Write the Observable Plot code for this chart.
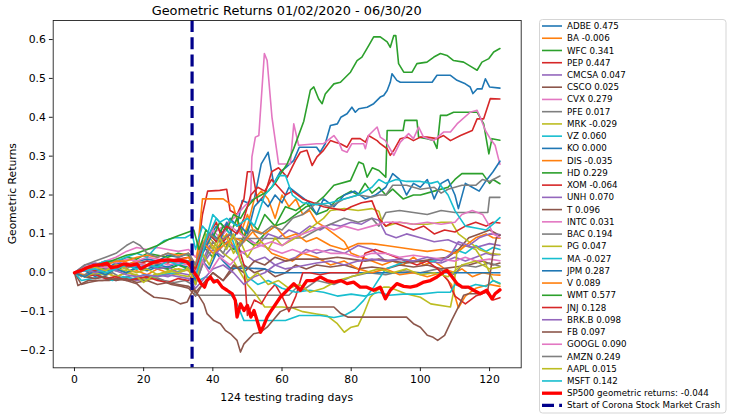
<!DOCTYPE html>
<html>
<head>
<meta charset="utf-8">
<script src="https://cdn.jsdelivr.net/npm/d3@7"></script>
<script src="https://cdn.jsdelivr.net/npm/@observablehq/plot@0.6"></script>
<style>
  html, body { margin: 0; padding: 0; background: #fff; }
  #chart { width: 730px; height: 417px; }
</style>
</head>
<body>
<div id="chart"></div>
<script>
// ---------------- DATA ----------------
const titleText = "Geometric Returns 01/02/2020 - 06/30/20";
const xLabel = "124 testing trading days";
const yLabel = "Geometric Returns";
const crashDay = 34;
const crashLabel = "Start of Corona Stock Market Crash";
const spLabel = "SP500 geometric returns: -0.044";

const tickX = [0, 20, 40, 60, 80, 100, 120];
const tickY = [-0.2, -0.1, 0.0, 0.1, 0.2, 0.3, 0.4, 0.5, 0.6];

const names = ["ADBE","BA","WFC","PEP","CMCSA","CSCO","CVX","PFE","MRK","VZ","KO","DIS","HD","XOM","UNH","T","INTC","BAC","PG","MA","JPM","V","WMT","JNJ","BRK.B","FB","GOOGL","AMZN","AAPL","MSFT"];
const finals = [0.475,-0.006,0.341,0.447,0.047,0.025,0.279,0.017,-0.029,0.060,0.000,-0.035,0.229,-0.064,0.070,0.096,0.031,0.194,0.047,-0.027,0.287,0.089,0.577,0.128,0.098,0.097,0.090,0.249,0.015,0.142];

// [day, geometric return]
const ADBE = [[0,0],[3,0.01],[6,0.02],[9,0.01],[12,0.025],[15,0.02],[18,0.03],[21,0.035],[24,0.03],[27,0.045],[30,0.04],[33,0.05],[35,0.02],[37,0.06],[39,0.09],[41,0.12],[43,0.1],[45,0.14],[47,0.12],[48.5,0.186],[50,0.18],[52,0.19],[54,0.28],[56,0.31],[57.6,0.229],[59.5,0.26],[61,0.27],[63.4,0.289],[65,0.323],[70,0.323],[71,0.31],[72.5,0.332],[74,0.379],[76,0.383],[77,0.40],[78.8,0.409],[80.2,0.426],[81.2,0.413],[82.2,0.422],[84.6,0.426],[86.5,0.435],[88.4,0.452],[89.4,0.456],[90.4,0.469],[91.3,0.49],[91.8,0.512],[93.2,0.495],[94.2,0.49],[103.4,0.49],[104.8,0.508],[108.7,0.508],[110.6,0.495],[113,0.486],[114.4,0.478],[115.2,0.461],[116.4,0.473],[117.8,0.473],[118.8,0.499],[120,0.478],[123,0.475]];
const BA = [[0,0],[3,-0.005],[6,0.005],[9,0.0],[12,-0.01],[15,0.0],[18,0.005],[21,-0.005],[24,0.01],[27,0.0],[30,0.01],[33,0.005],[35,-0.02],[37,0.05],[39,0.08],[41,0.06],[44,0.1],[47,0.05],[50,0.12],[52,0.19],[54,0.21],[56,0.19],[58,0.14],[60,0.2],[62,0.17],[64,0.19],[66,0.15],[68,0.16],[70,0.13],[72,0.12],[75,0.1],[78,0.08],[80,0.05],[83,0.04],[86,0.03],[89,0.02],[92,0.03],[95,0.02],[98,0.04],[101,0.02],[104,0.03],[107,0.01],[110,0.0],[112,0.01],[115,-0.01],[118,0.0],[121,-0.005],[123,-0.006]];
const WFC = [[0,0],[3,0.015],[6,0.02],[9,0.03],[12,0.025],[15,0.04],[18,0.035],[21,0.05],[24,0.045],[27,0.04],[30,0.05],[33,0.045],[35,0.0],[37,0.07],[40,0.04],[43,0.08],[46,0.06],[49,0.09],[52,0.07],[55,0.1],[58,0.12],[61,0.13],[64,0.15],[67,0.17],[70,0.18],[72,0.195],[75,0.225],[79.8,0.237],[82.2,0.285],[83.5,0.28],[84.6,0.246],[86.1,0.27],[88,0.263],[90,0.246],[90.4,0.366],[95,0.366],[95.5,0.392],[99,0.392],[99.5,0.349],[101.9,0.345],[103.8,0.34],[104.8,0.32],[105.8,0.405],[107.7,0.405],[109.6,0.413],[116.4,0.413],[118.3,0.383],[119.8,0.306],[120.7,0.345],[123,0.341]];
const PEP = [[0,0],[3,0.005],[6,0.015],[9,0.01],[12,0.02],[15,0.015],[18,0.025],[21,0.02],[24,0.03],[27,0.025],[30,0.035],[33,0.04],[35,0.01],[37,0.15],[38.5,0.21],[42,0.212],[44,0.215],[45,0.16],[47,0.15],[49,0.19],[50,0.26],[51.5,0.26],[53,0.18],[55,0.2],[57,0.26],[59,0.27],[61.5,0.246],[63.9,0.289],[65.3,0.31],[67.2,0.315],[68.7,0.276],[70.1,0.298],[72,0.315],[74,0.34],[75.4,0.336],[76.9,0.332],[78.8,0.323],[80.2,0.345],[82.6,0.345],[84.1,0.336],[85,0.353],[87.5,0.34],[88.4,0.332],[90.4,0.319],[91.3,0.302],[92.3,0.315],[94.2,0.345],[96.2,0.349],[98,0.34],[100,0.349],[101.9,0.349],[104.8,0.345],[106.7,0.353],[108.7,0.34],[111.6,0.353],[115,0.366],[116.4,0.396],[118.3,0.396],[120.2,0.448],[123,0.447]];
const CMCSA = [[0,0],[3,-0.01],[6,-0.005],[9,-0.015],[12,-0.02],[15,-0.01],[18,-0.02],[21,-0.015],[24,-0.005],[27,-0.01],[30,0.0],[33,-0.005],[35,-0.03],[37,0.02],[40,0.06],[43,0.04],[46,0.07],[49,0.05],[52,0.03],[55,0.04],[58,0.02],[61,0.03],[64,0.04],[67,0.06],[70,0.05],[74,0.06],[78,0.05],[82,0.07],[86,0.06],[90,0.03],[94,0.035],[98,0.03],[102,0.03],[106,0.025],[110,0.04],[113,0.03],[116,0.04],[119,0.05],[121,0.045],[123,0.047]];
const CSCO = [[0,0],[2,-0.03],[4,-0.025],[7,-0.02],[10,-0.02],[13,-0.015],[16,-0.02],[19,-0.015],[22,-0.01],[25,-0.02],[28,-0.03],[31,-0.035],[33,-0.04],[35,-0.06],[37,-0.03],[40,0.0],[43,-0.02],[46,0.01],[49,0.02],[52,0.0],[55,0.01],[58,-0.01],[61,0.0],[64,0.02],[67,0.01],[70,0.02],[74,0.015],[78,0.02],[82,0.01],[86,0.015],[90,0.01],[94,0.02],[98,0.015],[102,0.02],[106,0.01],[110,0.015],[114,0.02],[118,0.03],[121,0.02],[123,0.025]];
const CVX = [[0,0],[3,0.01],[6,0.02],[9,0.03],[12,0.04],[15,0.055],[18,0.065],[21,0.06],[24,0.065],[27,0.06],[30,0.055],[33,0.06],[35,0.04],[37,0.08],[40,0.1],[43,0.12],[46,0.14],[49,0.17],[50.9,0.186],[51.3,0.298],[52.3,0.349],[53.3,0.353],[54.9,0.564],[55.7,0.546],[57.1,0.40],[58.6,0.306],[59,0.28],[62.4,0.28],[63.4,0.383],[64.8,0.328],[70,0.332],[72,0.332],[75,0.353],[76.4,0.336],[77.4,0.315],[78.8,0.31],[80.2,0.332],[83.6,0.332],[84.1,0.319],[85,0.353],[87.5,0.375],[88.4,0.349],[89.9,0.34],[92.3,0.302],[94.2,0.336],[96.6,0.358],[98,0.345],[99.5,0.375],[100.9,0.349],[103.8,0.34],[106.7,0.362],[108.7,0.362],[110.6,0.383],[114.4,0.413],[116.4,0.418],[117.3,0.40],[118.8,0.366],[120.2,0.345],[121.6,0.328],[122.6,0.293],[123,0.279]];
const PFE = [[0,0],[2,-0.01],[5,0.005],[8,-0.01],[11,0.0],[14,-0.015],[17,-0.005],[20,-0.02],[23,-0.01],[26,-0.02],[29,-0.025],[32,-0.02],[34,-0.03],[35,-0.058],[45,-0.058],[55,-0.058],[62,-0.058],[64,-0.04],[66,-0.045],[70,-0.02],[75,-0.03],[80,-0.01],[85,0.0],[90,-0.005],[95,0.005],[100,0.0],[105,0.01],[110,-0.005],[112,0.02],[116,0.015],[120,0.025],[123,0.017]];
const MRK = [[0,0],[3,0.005],[6,-0.005],[9,0.0],[12,-0.01],[15,0.0],[18,-0.005],[21,-0.02],[24,-0.01],[27,0.0],[30,-0.005],[33,-0.01],[35,0.02],[37,0.05],[39,0.09],[41,0.07],[43,0.05],[46,0.03],[48,0.0],[50,-0.03],[52,-0.05],[55,-0.088],[60,-0.088],[63,-0.09],[66,-0.1],[70,-0.106],[73,-0.11],[76,-0.131],[78,-0.153],[80,-0.14],[82,-0.136],[83.6,-0.106],[85.5,-0.063],[87.5,-0.045],[89.4,-0.037],[91,-0.037],[95.8,-0.054],[100,-0.063],[103,-0.08],[108.7,-0.088],[109.7,-0.045],[110.5,0.05],[113,0.07],[116,0.06],[119,0.02],[121,-0.02],[123,-0.029]];
const VZ = [[0,0],[2,-0.02],[5,-0.015],[8,-0.01],[11,-0.02],[14,-0.01],[17,-0.015],[20,-0.005],[23,-0.01],[26,-0.005],[29,0.0],[32,0.01],[34,0.02],[36,-0.02],[38,-0.01],[41,-0.02],[44,-0.045],[46.5,-0.07],[49,-0.123],[55,-0.123],[61,-0.123],[65,-0.11],[71,-0.11],[75,-0.115],[78,-0.11],[81,-0.095],[83.6,-0.071],[86.5,-0.037],[88.4,-0.011],[90,0.01],[93,0.02],[96,0.03],[100,0.03],[104,0.03],[108,0.04],[110,0.06],[113,0.05],[116,0.07],[119,0.055],[121,0.065],[123,0.06]];
const KO = [[0,0],[3,0.005],[6,-0.01],[9,0.005],[12,0.01],[15,0.0],[18,0.012],[21,0.005],[24,0.015],[27,0.01],[30,0.02],[33,0.015],[35,-0.01],[37,0.03],[39,0.01],[41,0.05],[43,0.03],[45,0.012],[50,0.012],[55,0.01],[58,0.0],[123,0.0]];
const DIS = [[0,0],[3,0.01],[6,0.005],[9,0.015],[12,0.01],[15,0.02],[18,0.03],[21,0.02],[24,0.025],[27,0.035],[30,0.03],[33,0.04],[35,0.0],[37,0.19],[40,0.19],[43,0.19],[46,0.17],[48,0.1],[50,0.15],[52,0.1],[54,0.08],[57,0.05],[60,0.04],[63,0.03],[66,0.05],[70,0.04],[74,0.02],[78,0.03],[82,0.01],[86,0.0],[90,0.01],[94,-0.005],[98,0.0],[102,-0.01],[106,0.0],[109,-0.03],[111,-0.09],[113,-0.06],[116,-0.04],[120,-0.03],[123,-0.035]];
const HD = [[0,0],[3,0.01],[6,0.0],[9,0.015],[12,0.005],[15,0.02],[18,0.01],[21,0.02],[24,0.015],[27,0.01],[30,0.02],[33,0.01],[35,-0.02],[37,0.06],[39,0.1],[41,0.08],[43,0.12],[45,0.1],[47,0.14],[49,0.09],[51,0.13],[53,0.11],[55,0.15],[58,0.12],[61,0.17],[64,0.16],[67,0.18],[70,0.15],[73,0.16],[76,0.19],[78,0.2],[80,0.21],[82,0.2],[84,0.23],[86,0.205],[88,0.22],[90,0.2],[92,0.215],[95,0.19],[98,0.2],[100,0.2],[104,0.21],[108,0.22],[110,0.24],[112,0.255],[118,0.255],[120,0.23],[121,0.24],[123,0.229]];
const XOM = [[0,0],[3,-0.01],[6,-0.005],[9,-0.015],[12,-0.01],[15,-0.02],[18,-0.015],[21,-0.01],[24,-0.02],[27,-0.025],[30,-0.015],[33,-0.02],[35,0.0],[37,0.05],[39,0.1],[41,0.13],[43,0.08],[45,0.1],[47,0.08],[49,0.02],[50,-0.11],[52,-0.07],[54,-0.08],[56,-0.05],[58,-0.03],[60,-0.06],[62,-0.1],[64,-0.06],[66,0.0],[68,0.0],[71,-0.005],[74,0.0],[78,0.0],[82,0.0],[84,0.05],[87,0.06],[90,0.05],[93,0.04],[96,0.03],[99,0.02],[102,0.03],[105,0.01],[108,-0.02],[110,-0.06],[113,-0.08],[116,-0.06],[119,-0.05],[121,-0.07],[123,-0.064]];
const UNH = [[0,0],[3,0.02],[6,0.025],[9,0.02],[12,0.03],[15,0.02],[18,0.015],[21,0.02],[24,0.01],[27,0.015],[30,0.0],[33,0.01],[35,-0.02],[37,0.03],[39,0.07],[41,0.05],[44,0.08],[47,0.06],[50,0.09],[53,0.07],[56,0.1],[59,0.09],[62,0.11],[65,0.1],[68,0.12],[71,0.11],[74,0.125],[77,0.12],[80,0.13],[83,0.125],[86,0.14],[88,0.135],[90,0.1],[93,0.09],[96,0.1],[100,0.09],[104,0.08],[108,0.085],[112,0.07],[116,0.065],[120,0.075],[123,0.07]];
const T = [[0,0],[3,-0.01],[6,-0.015],[9,-0.01],[12,-0.02],[15,-0.015],[18,-0.025],[21,-0.02],[24,-0.03],[27,-0.025],[30,-0.03],[33,-0.035],[35,-0.05],[37,-0.03],[40,0.0],[43,-0.02],[46,0.02],[49,0.0],[52,0.03],[55,0.02],[58,0.04],[61,0.03],[64,0.035],[68,0.035],[72,0.035],[76,0.04],[80,0.035],[84,0.03],[88,0.035],[92,0.03],[96,0.025],[100,0.03],[104,0.035],[108,0.04],[111,0.06],[114,0.09],[117,0.1],[120,0.11],[123,0.096]];
const INTC = [[0,0],[3,0.015],[6,0.02],[9,0.03],[12,0.025],[15,0.035],[18,0.03],[21,0.04],[24,0.035],[27,0.03],[30,0.035],[33,0.03],[35,0.0],[37,0.06],[40,0.11],[42,0.09],[45,0.12],[48,0.1],[51,0.08],[54,0.07],[57,0.06],[60,0.05],[63,0.06],[66,0.05],[70,0.06],[74,0.05],[78,0.05],[82,0.04],[86,0.05],[90,0.05],[94,0.04],[98,0.045],[102,0.04],[106,0.035],[110,0.03],[113,0.04],[116,0.03],[120,0.035],[123,0.031]];
const BAC = [[0,0],[3,0.01],[6,-0.005],[9,0.01],[12,0.02],[15,0.01],[18,0.025],[21,0.03],[24,0.02],[27,0.03],[30,0.025],[33,0.03],[35,-0.03],[37,0.02],[40,0.08],[43,0.05],[45,0.088],[62,0.088],[66,0.09],[70,0.11],[74,0.125],[78,0.14],[82,0.13],[86,0.14],[88,0.12],[90,0.155],[94,0.16],[98,0.155],[102,0.15],[106,0.16],[110,0.155],[119.5,0.155],[120,0.194],[123,0.194]];
const PG = [[0,0],[3,-0.01],[6,0.0],[9,-0.005],[12,0.01],[15,0.005],[18,-0.01],[20,-0.025],[23,-0.005],[26,0.0],[29,0.01],[32,0.005],[34,0.03],[36,0.01],[38,0.1],[40,0.06],[42,0.1],[44,0.09],[46,0.05],[48,0.08],[50,0.04],[52,0.07],[54,0.08],[56,0.06],[58,0.09],[60,0.07],[63,0.085],[66,0.1],[69,0.12],[72,0.14],[74,0.16],[78,0.165],[82,0.16],[86,0.165],[88,0.158],[89,0.13],[90,0.12],[94,0.13],[98,0.125],[102,0.125],[106,0.13],[109,0.13],[111,0.1],[114,0.08],[117,0.06],[120,0.05],[123,0.047]];
const MA = [[0,0],[3,0.01],[6,0.02],[9,0.03],[12,0.03],[15,0.04],[18,0.05],[21,0.04],[24,0.07],[26,0.083],[29,0.09],[32,0.09],[34,0.1],[35,0.06],[37,0.12],[39,0.1],[41,0.14],[43,0.12],[45,0.1],[48,0.03],[50,-0.01],[53,-0.03],[56,-0.02],[60,-0.04],[64,-0.05],[68,-0.045],[72,-0.05],[76,-0.06],[80,-0.055],[84,-0.06],[88,-0.05],[91,-0.058],[95,-0.055],[100,-0.055],[105,-0.05],[108.7,-0.05],[110,-0.03],[113,-0.04],[116,-0.03],[119,-0.035],[121,-0.02],[123,-0.027]];
const JPM = [[0,0],[3,-0.01],[6,0.005],[9,-0.005],[12,0.01],[15,0.0],[18,0.015],[21,0.01],[24,0.02],[27,0.015],[30,0.025],[33,0.03],[35,-0.02],[37,0.05],[40,0.1],[42,0.08],[44,0.13],[46,0.09],[48,0.12],[50,0.1],[52,0.17],[54,0.19],[56,0.17],[58,0.2],[60,0.18],[62,0.22],[65,0.2],[68,0.18],[70,0.15],[72,0.19],[75,0.17],[78,0.2],[81,0.21],[84,0.19],[87,0.2],[90,0.22],[92,0.255],[94,0.24],[96,0.2],[98,0.23],[100,0.22],[102,0.24],[104,0.19],[106,0.23],[108,0.24],[110,0.2],[111,0.165],[113,0.23],[115,0.22],[117,0.21],[119,0.237],[121,0.26],[123,0.287]];
const V = [[0,0],[3,0.01],[6,0.02],[9,0.02],[12,0.03],[15,0.03],[18,0.04],[21,0.045],[24,0.04],[27,0.05],[30,0.045],[33,0.05],[35,0.02],[37,0.08],[40,0.05],[43,0.07],[46,0.09],[49,0.08],[52,0.11],[55,0.1],[58,0.12],[61,0.09],[64,0.1],[67,0.08],[70,0.09],[74,0.07],[78,0.06],[82,0.075],[86,0.075],[90,0.07],[94,0.065],[98,0.06],[102,0.055],[106,0.06],[110,0.05],[113,0.07],[116,0.09],[119,0.1],[121,0.09],[123,0.089]];
const WMT = [[0,0],[3,0.01],[6,0.02],[9,0.025],[12,0.035],[15,0.045],[18,0.05],[21,0.06],[24,0.07],[27,0.085],[30,0.095],[33,0.105],[34.5,0.11],[36,0.06],[38,0.11],[40,0.09],[42,0.13],[44,0.11],[46,0.15],[48,0.14],[50,0.17],[52,0.19],[54,0.2],[56,0.21],[58,0.23],[60,0.26],[61.5,0.28],[63.4,0.32],[66.3,0.39],[68.2,0.47],[69.2,0.478],[70.6,0.447],[71.6,0.435],[72.5,0.46],[75,0.486],[76.9,0.49],[79.8,0.516],[81.7,0.546],[83.1,0.555],[85.1,0.585],[86.5,0.607],[88.4,0.607],[90.4,0.594],[91.3,0.58],[92.3,0.61],[92.9,0.61],[93.7,0.538],[95.2,0.516],[97.6,0.516],[99,0.538],[101.9,0.542],[103.9,0.555],[105.8,0.564],[107.7,0.559],[109.6,0.546],[112.5,0.542],[114.9,0.529],[116.4,0.521],[117.8,0.542],[119.8,0.551],[121.2,0.568],[123,0.577]];
const JNJ = [[0,0],[3,0.01],[6,0.005],[9,0.02],[12,0.015],[15,0.025],[18,0.02],[21,0.03],[24,0.025],[27,0.03],[30,0.035],[33,0.03],[35,0.01],[37,0.06],[39,0.1],[41,0.08],[44,0.12],[47,0.1],[49,0.14],[51,0.2],[53,0.22],[55,0.21],[57,0.24],[59,0.22],[61,0.2],[63,0.21],[66,0.19],[69,0.18],[72,0.17],[75,0.165],[78,0.16],[80,0.17],[83,0.18],[86,0.185],[88,0.14],[90,0.12],[92,0.13],[95,0.12],[98,0.11],[101,0.12],[104,0.1],[107,0.11],[110,0.105],[113,0.12],[116,0.13],[119,0.12],[121,0.13],[123,0.128]];
const BRKB = [[0,0],[3,0.01],[6,0.0],[9,0.01],[12,0.005],[15,-0.005],[18,-0.01],[21,-0.005],[24,-0.01],[27,-0.005],[30,-0.01],[33,-0.015],[35,-0.04],[37,-0.02],[40,0.01],[43,0.02],[46,0.0],[49,-0.03],[52,-0.01],[55,0.0],[58,0.02],[61,0.01],[64,0.015],[67,0.02],[70,0.025],[74,0.03],[78,0.02],[82,0.03],[86,0.035],[90,0.03],[94,0.035],[98,0.03],[102,0.04],[106,0.03],[109,0.05],[111,0.08],[114,0.07],[117,0.09],[120,0.1],[123,0.098]];
const FB = [[0,0],[1,-0.033],[4,-0.02],[8,-0.02],[12,-0.015],[15,-0.02],[18,-0.028],[20,-0.045],[23,-0.063],[26.8,-0.067],[28.7,-0.071],[30.6,-0.08],[32.6,-0.075],[33.5,-0.058],[34.5,-0.04],[36,-0.06],[37.4,-0.08],[38.3,-0.105],[40.3,-0.123],[42.2,-0.131],[43.6,-0.148],[45.1,-0.157],[47,-0.174],[48,-0.204],[49,-0.183],[50.4,-0.17],[51.8,-0.157],[53.8,-0.153],[55.7,-0.14],[57.6,-0.12],[59.5,-0.1],[62,-0.09],[65,-0.088],[75,-0.088],[77,-0.105],[79,-0.114],[96,-0.114],[98,-0.131],[100,-0.14],[102,-0.161],[103.5,-0.165],[105,-0.174],[107,-0.161],[109,-0.123],[111,-0.088],[112.5,-0.058],[114,-0.054],[117,-0.054],[119.5,-0.045],[121,0.05],[122,0.09],[123,0.097]];
const GOOGL = [[0,0],[3,0.005],[6,0.01],[9,0.015],[12,0.01],[15,0.02],[18,0.025],[21,0.02],[24,0.03],[27,0.02],[30,0.025],[33,0.02],[35,-0.01],[37,0.03],[39,0.0],[42,0.04],[45,0.02],[48,0.05],[51,0.06],[54,0.07],[57,0.08],[60,0.07],[63,0.09],[66,0.1],[69,0.11],[72,0.12],[75,0.11],[78,0.12],[82,0.11],[86,0.12],[90,0.13],[94,0.13],[98,0.125],[102,0.13],[106,0.125],[110,0.13],[112,0.15],[115,0.16],[118,0.15],[120,0.12],[121,0.1],[123,0.09]];
const AMZN = [[0,0],[3,0.02],[6,0.03],[9,0.04],[12,0.05],[15,0.07],[17,0.08],[19,0.07],[21,0.05],[24,0.04],[27,0.05],[30,0.04],[33,0.05],[35,0.02],[37,0.07],[39,0.1],[42,0.08],[45,0.1],[48,0.07],[51,0.11],[54,0.1],[57,0.12],[60,0.11],[63,0.14],[66,0.15],[70,0.18],[74,0.17],[78,0.19],[82,0.2],[86,0.195],[88,0.2],[90,0.2],[92,0.225],[96,0.225],[100,0.215],[104,0.22],[106,0.205],[108,0.215],[112,0.225],[116,0.225],[118,0.24],[120,0.235],[123,0.249]];
const AAPL = [[0,0],[3,0.01],[6,0.015],[9,0.005],[12,0.02],[15,0.01],[18,0.0],[21,0.01],[24,-0.005],[27,0.005],[30,0.0],[33,0.01],[35,-0.03],[37,0.05],[39,0.02],[42,0.09],[44,0.06],[46,0.1],[48,0.03],[50,-0.02],[53,0.0],[56,-0.03],[59,-0.02],[62,-0.04],[65,-0.03],[68,-0.05],[72,-0.04],[76,-0.02],[80,-0.01],[84,0.0],[88,0.01],[92,0.0],[96,0.01],[100,-0.005],[104,0.0],[108,-0.01],[112,0.02],[116,0.03],[120,0.01],[123,0.015]];
const MSFT = [[0,0],[3,0.005],[6,0.01],[9,0.0],[12,0.01],[15,0.02],[18,0.01],[21,0.02],[24,0.015],[27,0.03],[30,0.02],[33,0.03],[35,-0.01],[37,0.05],[40,0.15],[42,0.13],[44,0.14],[47,0.12],[50,0.14],[52,0.12],[55,0.2],[57,0.22],[59,0.25],[61,0.25],[63,0.2],[66,0.18],[70,0.175],[74,0.18],[78,0.19],[82,0.2],[86,0.22],[88,0.24],[90,0.23],[93,0.24],[96,0.235],[100,0.235],[103,0.23],[105,0.235],[108,0.2],[110,0.16],[113,0.12],[116,0.115],[119,0.11],[121,0.125],[123,0.142]];
const SP500 = [[0,0],[2,0.006],[3.6,0.013],[5.6,0.019],[7.7,0.021],[9.4,0.025],[10.6,0.013],[12.5,0.016],[14.3,0.023],[16.2,0.019],[18.1,0.023],[19.1,0.01],[21,0.019],[22.9,0.027],[24.9,0.032],[26.8,0.033],[28.7,0.032],[30.6,0.032],[32.6,0.027],[33.5,0.019],[34.5,0.002],[35.5,-0.011],[36.6,-0.028],[37.6,-0.037],[38.3,-0.02],[39.3,-0.011],[40.3,-0.024],[41.3,-0.02],[42.7,-0.037],[44.1,-0.045],[45.6,-0.054],[46.5,-0.071],[47,-0.114],[48,-0.08],[49,-0.097],[50,-0.084],[51,-0.114],[51.9,-0.097],[52.8,-0.123],[53.8,-0.153],[54.7,-0.136],[55.7,-0.114],[56.6,-0.101],[57.6,-0.088],[59.5,-0.063],[61.5,-0.045],[63.4,-0.028],[65.3,-0.045],[67.2,-0.02],[69.2,-0.02],[71.1,-0.011],[73,-0.02],[75,-0.024],[77,-0.02],[78.8,-0.028],[80.7,-0.024],[82.6,-0.037],[84.5,-0.037],[86.5,-0.045],[88.4,-0.037],[89.9,-0.067],[91.3,-0.045],[93.2,-0.028],[95.2,-0.035],[97.1,-0.037],[99,-0.033],[101,-0.024],[102.9,-0.02],[104.8,-0.011],[106.7,0.002],[107.7,0.006],[109.2,-0.011],[110.6,-0.028],[112.1,-0.037],[113.9,-0.037],[115.4,-0.045],[117.3,-0.054],[119.2,-0.045],[120.7,-0.067],[121.6,-0.054],[123,-0.044]];

const seriesValues = [ADBE,BA,WFC,PEP,CMCSA,CSCO,CVX,PFE,MRK,VZ,KO,DIS,HD,XOM,UNH,T,INTC,BAC,PG,MA,JPM,V,WMT,JNJ,BRKB,FB,GOOGL,AMZN,AAPL,MSFT];

// ---------------- STYLE ----------------
const palette = ["#1f77b4","#ff7f0e","#2ca02c","#d62728","#9467bd","#8c564b","#e377c2","#7f7f7f","#bcbd22","#17becf"];
const FONT = "DejaVu Sans, sans-serif";
const W = 730, H = 417;
const mL = 52.7, mR = 209.3, mT = 20, mB = 49.7;
const dash = "12,5.2";

const stocks = names.map((n, i) => ({name: n, final: finals[i], data: seriesValues[i], color: palette[i % 10]}));

const marks = [];
stocks.forEach(s => {
  marks.push(Plot.line(s.data, {x: d => d[0], y: d => d[1], stroke: s.color, strokeWidth: 1.6, strokeLinejoin: "round"}));
});
marks.push(Plot.line(SP500, {x: d => d[0], y: d => d[1], stroke: "#ff0000", strokeWidth: 3.3, strokeLinejoin: "round"}));
marks.push(Plot.ruleX([crashDay], {stroke: "#00008b", strokeWidth: 3.2, strokeDasharray: dash}));
marks.push(Plot.frame({stroke: "#222", strokeWidth: 0.9}));
marks.push(Plot.axisX({ticks: tickX, tickSize: 3.8, tickPadding: 3.5, label: null, tickFormat: d => String(d), stroke: "#222"}));
marks.push(Plot.axisY({ticks: tickY, tickSize: 3.8, tickPadding: 3.5, label: null, tickFormat: d => d.toFixed(1).replace("-", "\u2212"), stroke: "#222"}));

const chart = Plot.plot({
  width: W, height: H,
  marginLeft: mL, marginRight: mR, marginTop: mT, marginBottom: mB,
  x: {domain: [-6.15, 129.15]},
  y: {domain: [-0.2445, 0.649]},
  style: {fontFamily: FONT, fontSize: "10.8px", color: "#000", background: "#fff", overflow: "visible"},
  marks
});

const svg = d3.select(chart);
const plotCx = mL + (W - mR - mL) / 2;
const plotCy = mT + (H - mB - mT) / 2;

svg.append("text").attr("x", plotCx).attr("y", 14.5).attr("text-anchor", "middle")
  .attr("font-family", FONT).attr("font-size", "12.9px").attr("fill", "#000").text(titleText);
svg.append("text").attr("x", plotCx).attr("y", 401).attr("text-anchor", "middle")
  .attr("font-family", FONT).attr("font-size", "10.8px").attr("fill", "#000").text(xLabel);
svg.append("text").attr("transform", `translate(16,${plotCy}) rotate(-90)`).attr("text-anchor", "middle")
  .attr("font-family", FONT).attr("font-size", "10.8px").attr("fill", "#000").text(yLabel);

// legend
const lg = svg.append("g").attr("text-anchor", "start");
lg.append("rect").attr("x", 539.5).attr("y", 19.5).attr("width", 186.5).attr("height", 393.5).attr("rx", 3)
  .attr("fill", "#fff").attr("fill-opacity", 0.8).attr("stroke", "#d5d5d5").attr("stroke-width", 1);
const entries = stocks.map(s => ({label: `${s.name} ${s.final.toFixed(3)}`, color: s.color, w: 1.6, dash: null}));
entries.push({label: spLabel, color: "#ff0000", w: 3.3, dash: null});
entries.push({label: crashLabel, color: "#00008b", w: 3.2, dash: dash});
const rowH = 12.24, row0 = 26;
entries.forEach((e, i) => {
  const y = row0 + i * rowH;
  const ln = lg.append("line").attr("x1", 542).attr("x2", 562).attr("y1", y).attr("y2", y)
    .attr("stroke", e.color).attr("stroke-width", e.w);
  if (e.dash) ln.attr("stroke-dasharray", e.dash);
  lg.append("text").attr("x", 567).attr("y", y).attr("dy", "0.35em").attr("text-anchor", "start")
    .attr("font-family", FONT).attr("font-size", "8.7px").attr("fill", "#000").text(e.label);
});

document.getElementById("chart").appendChild(chart);
</script>
</body>
</html>
